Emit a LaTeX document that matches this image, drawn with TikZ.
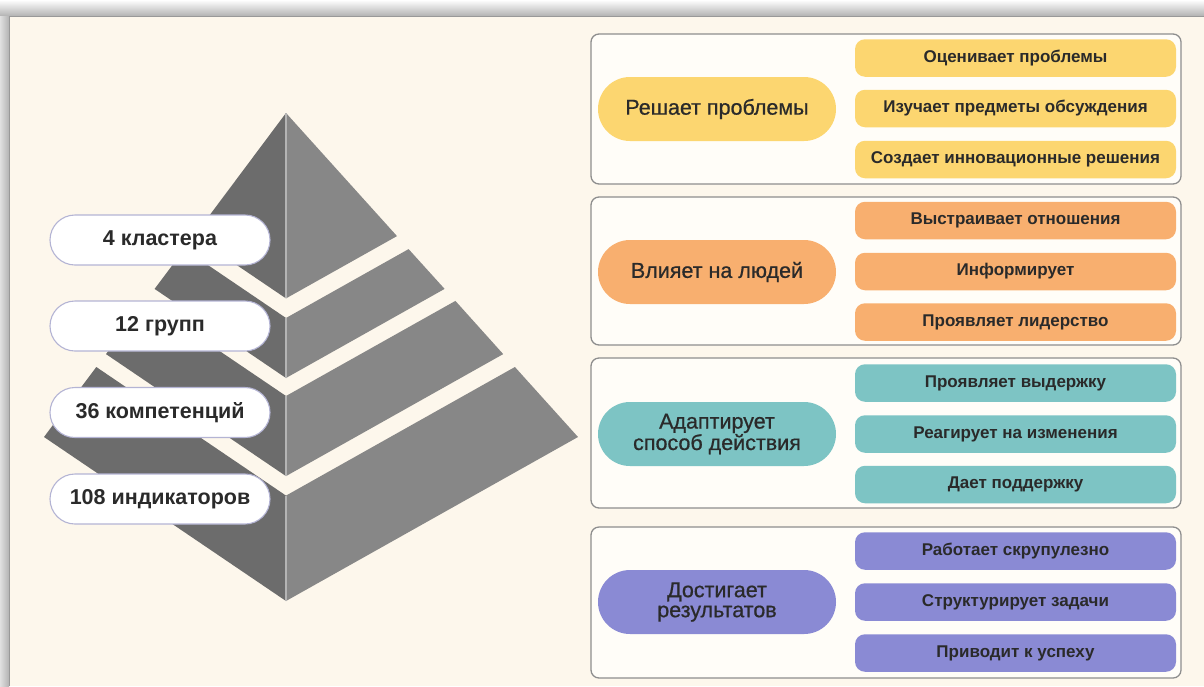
\documentclass[tikz,border=0pt]{standalone}
\usepackage{fontspec}
\setmainfont{Liberation Sans}
\newfontfamily\medfont[FakeBold=0.7]{Liberation Sans}
\usetikzlibrary{shapes.misc}
\definecolor{cream}{HTML}{FDF7EC}
\definecolor{boxfill}{HTML}{FFFDF8}
\definecolor{boxline}{HTML}{8E8E8E}
\definecolor{cyellow}{HTML}{FCD670}
\definecolor{corange}{HTML}{F8AF6F}
\definecolor{cteal}{HTML}{7DC4C4}
\definecolor{cpurple}{HTML}{8A8AD4}
\definecolor{pyleft}{HTML}{6C6C6C}
\definecolor{pyright}{HTML}{878787}
\definecolor{pyline}{HTML}{B4B4B4}
\definecolor{labline}{HTML}{B4B4D4}
\definecolor{txt}{HTML}{2A2A2A}
\tikzset{
  groupbox/.style={draw=boxline, line width=1.3pt, fill=boxfill, rounded corners=8pt},
  subpill/.style={rounded corners=10pt, minimum width=321pt, minimum height=37.5pt, inner sep=0pt,
    text=txt, font=\fontsize{17}{18}\selectfont\bfseries},
  bigpill/.style={rounded rectangle, minimum width=238pt, minimum height=64pt, inner sep=0pt,
    text=txt, align=center, font=\medfont\fontsize{21.5}{20}\selectfont},
  levlabel/.style={rounded rectangle, draw=labline, line width=1.1pt, fill=white,
    minimum width=220pt, minimum height=50pt, inner sep=0pt, text=txt,
    font=\fontsize{21.5}{22}\selectfont\bfseries},
  lface/.style={fill=pyleft},
  rface/.style={fill=pyright},
  cline/.style={draw=pyline, line width=2pt}
}
\begin{document}
\begin{tikzpicture}[x=1pt,y=-1pt]
\useasboundingbox (0,0) rectangle (1204,686);
% screenshot shadow frame
\fill[white] (0,0) rectangle (1204,686);
\shade[top color=white, bottom color=black!30] (0,0) rectangle (1204,16);
\shade[left color=black!12, right color=black!30] (0,16) rectangle (9,686);
\fill[cream] (10,17) rectangle (1204,686);
\draw[black!40, line width=0.8pt] (9.5,686) -- (9.5,16.5) -- (1204,16.5);

% pyramid
\fill[lface] (286,113) -- (194,236.1) -- (286,298.4) -- cycle;
\fill[rface] (286,113) -- (397,236.1) -- (286,298.4) -- cycle;
\draw[cline] (286,113) -- (286,298.4);
\fill[lface] (184.4,249.1) -- (286,318) -- (286,378) -- (154.6,288.9) -- cycle;
\fill[rface] (408.6,249.1) -- (286,318) -- (286,378) -- (444.6,288.9) -- cycle;
\draw[cline] (286,318) -- (286,378);
\fill[lface] (145.6,300.9) -- (286,396) -- (286,476.1) -- (106,354.1) -- cycle;
\fill[rface] (455.4,300.9) -- (286,396) -- (286,476.1) -- (503.2,354.1) -- cycle;
\draw[cline] (286,396) -- (286,476.1);
\fill[lface] (96.3,367) -- (286,495.6) -- (286,601) -- (44,437) -- cycle;
\fill[rface] (514.9,367) -- (286,495.6) -- (286,601) -- (578,437) -- cycle;
\draw[cline] (286,495.6) -- (286,601);

% level labels
\node[levlabel] (lab1) at (160,240) {4 кластера};
\node[levlabel] (lab2) at (160,326) {12 групп};
\node[levlabel] (lab3) at (160,412.5) {36 компетенций};
\node[levlabel] (lab4) at (160,499) {108 индикаторов};

% group boxes
\draw[groupbox] (591,34) rectangle (1181,184);
\draw[groupbox] (591,197) rectangle (1181,345);
\draw[groupbox] (591,358) rectangle (1181,508);
\draw[groupbox] (591,527) rectangle (1181,678);

% group 1
\node[bigpill, fill=cyellow] (g1) at (717,109) {Решает проблемы};
\node[subpill, fill=cyellow] (g1a) at (1015.5,58) {Оценивает проблемы};
\node[subpill, fill=cyellow] (g1b) at (1015.5,108.5) {Изучает предметы обсуждения};
\node[subpill, fill=cyellow] (g1c) at (1015.5,159.5) {Создает инновационные решения};
% group 2
\node[bigpill, fill=corange] (g2) at (717,272) {Влияет на людей};
\node[subpill, fill=corange] (g2a) at (1015.5,220.5) {Выстраивает отношения};
\node[subpill, fill=corange] (g2b) at (1015.5,271.5) {Информирует};
\node[subpill, fill=corange] (g2c) at (1015.5,322) {Проявляет лидерство};
% group 3
\node[bigpill, fill=cteal] (g3) at (717,434) {Адаптирует\\способ действия};
\node[subpill, fill=cteal] (g3a) at (1015.5,383) {Проявляет выдержку};
\node[subpill, fill=cteal] (g3b) at (1015.5,434) {Реагирует на изменения};
\node[subpill, fill=cteal] (g3c) at (1015.5,484.5) {Дает поддержку};
% group 4
\node[bigpill, fill=cpurple] (g4) at (717,602) {Достигает\\результатов};
\node[subpill, fill=cpurple] (g4a) at (1015.5,551) {Работает скрупулезно};
\node[subpill, fill=cpurple] (g4b) at (1015.5,602) {Структурирует задачи};
\node[subpill, fill=cpurple] (g4c) at (1015.5,653) {Приводит к успеху};
\end{tikzpicture}
\end{document}
